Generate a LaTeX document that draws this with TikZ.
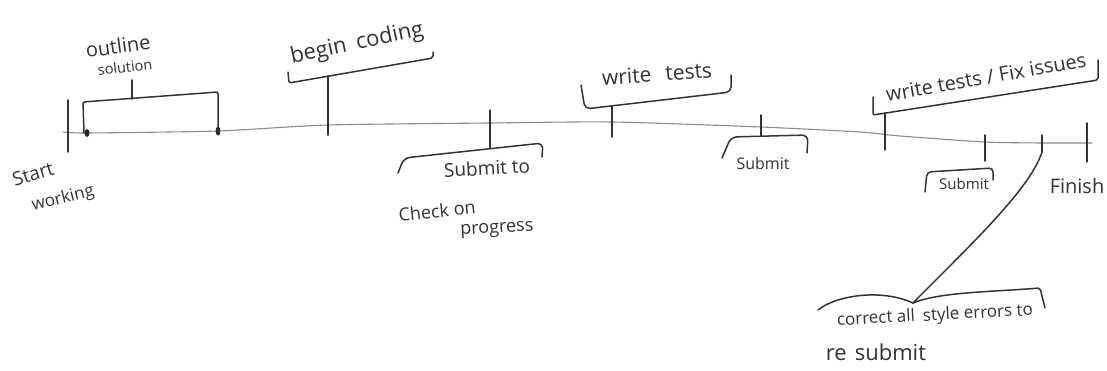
\documentclass[tikz,border=0pt]{standalone}
\usepackage{fontspec}
\setmainfont{Open Sans}
\tikzset{TLaxis/.style={draw=black!45,line width=1.1pt,line cap=round},
         TLpen/.style={draw=black!80,line width=1.5pt,line cap=round,line join=round,rounded corners=2pt},
         TLlab/.style={font=\fontsize{#1}{#1}\selectfont,text=black!80,inner sep=0pt},
         TLlab/.default=14}

\begin{document}
\begin{tikzpicture}[x=1pt,y=-1pt]
    \useasboundingbox[fill=white] (0,0) rectangle (1107,371);
    \draw[TLaxis] plot[smooth,tension=0.4] coordinates {(63,132) (87,133) (218,131) (328,125) (490,123)
      (612,122) (761,127) (860,132) (900,136) (985,142) (1042,143) (1092,143)};
    \foreach \n/\x/\a/\b in {st/68/100/152,bc/328/76/135,sb/490/110/148,wt/612/106/137,su/761/115/136,
                              wf/885/113/150,sv/985/135/161,cr/1042/135/152,fn/1087/123/162}
      {\draw[TLpen] (\x,\a) coordinate (\n-t) -- (\x,\b) coordinate (\n-b);}
    \fill[black!85] (87,133) ellipse (2.4 and 4) (218,131) ellipse (2.4 and 4.5);
    \draw[TLpen] (84,133) -- (83,102) -- (218,92) -- (218,131); \draw[TLpen] (132,99) -- (132,80);
    \draw[TLpen] (288,72) -- (289,83) -- (433,58) -- (433,52);
    \draw[TLpen,rounded corners=6pt] (398,173) -- (404,158) -- (543,143) -- (542,157);
    \draw[TLpen,rounded corners=5pt] (581,85) -- (585,109) -- (731,92) -- (731,75);
    \draw[TLpen,rounded corners=6pt] (722,158) -- (731,137) -- (808,135) -- (807,153);
    \draw[TLpen] (873,97) -- (873,115) -- (1098,80) -- (1098,60);
    \draw[TLpen,rounded corners=4pt] (925,192) -- (927,172) -- (993,168) -- (993,180);
    \coordinate (cusp) at (913,303);
    \draw[TLpen] (818,310) .. controls (835,296) and (880,288) .. (cusp);
    \draw[TLpen] (cusp) .. controls (940,292) and (990,292) .. (1040,288) -- (1045,308);
    \draw[TLpen] (cr-b) .. controls (1030,190) and (965,250) .. (cusp);
    \node[TLlab=20,rotate=8] (outl) at (118,46) {outline};
    \node[TLlab=14.5,rotate=6] (soln) at (125,67) {solution};
    \node[TLlab=19,rotate=17] (strt) at (33,174) {Start};
    \node[TLlab=17,rotate=14] (wrkg) at (63,199) {working};
    \node[TLlab=22,rotate=12] (bgcd) at (357,44) {begin\hspace{10pt}coding};
    \node[TLlab=19,rotate=3] (sbto) at (487,168) {Submit to};
    \node[TLlab=18,rotate=6] (chck) at (437,211) {Check on};
    \node[TLlab=18,rotate=3] (prog) at (497,230) {progress};
    \node[TLlab=21,rotate=4] (wtst) at (657,74) {write\hspace{14pt}tests};
    \node[TLlab=16] (sbm1) at (763,164) {Submit};
    \node[TLlab=20,rotate=10] (wtfx) at (986,77) {write tests / Fix issues};
    \node[TLlab=15] (sbm2) at (964,184) {Submit};
    \node[TLlab=20] (fnsh) at (1077,186) {Finish};
    \node[TLlab=17,rotate=3] (crct) at (935,316) {correct all\hspace{8pt}style errors to};
    \node[TLlab=22] (resb) at (876,352) {re\hspace{8pt}submit};
  \end{tikzpicture}
\end{document}
